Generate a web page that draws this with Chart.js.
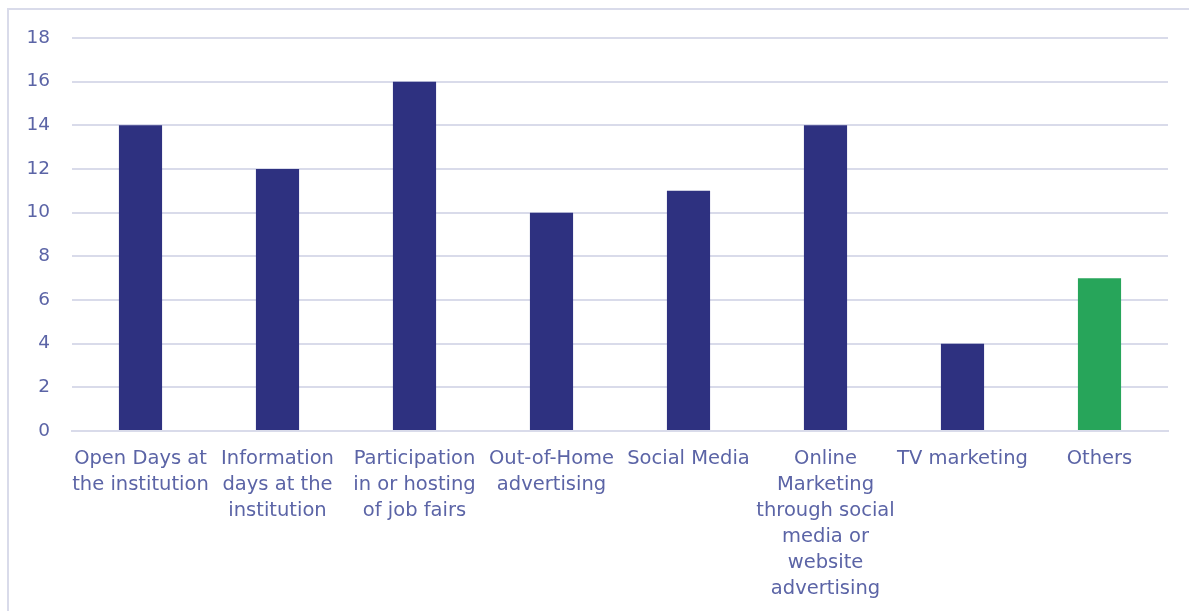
<!DOCTYPE html>
<html>
<head>
<meta charset="utf-8">
<script src="https://cdn.jsdelivr.net/npm/chart.js@4.4.0/dist/chart.umd.min.js"></script>
<style>
    html, body { margin: 0; padding: 0; background: #fff; overflow: hidden; width: 1189px; height: 611px; }
    .frame {
        position: absolute; left: 7px; top: 8px; width: 1182px; height: 603px;
        box-sizing: border-box;
        border-left: 2px solid #D9DBEA; border-top: 2px solid #D9DBEA;
        border-right: 0; border-bottom: 0;
    }
    .wrap { position: absolute; left: 0; top: 0; width: 1180px; height: 611px; }
</style>
</head>
<body>
<div class="frame"></div>
<div class="wrap"><canvas id="channelsChart"></canvas></div>
<script>
// Recruitment channels: number of mentions per channel
const channels = [
    ['Open Days at', 'the institution'],
    ['Information', 'days at the', 'institution'],
    ['Participation', 'in or hosting', 'of job fairs'],
    ['Out-of-Home', 'advertising'],
    ['Social Media'],
    ['Online', 'Marketing', 'through social', 'media or', 'website', 'advertising'],
    ['TV marketing'],
    ['Others']
];
const mentions = [14, 12, 16, 10, 11, 14, 4, 7];
const barColors = ['#2E3180', '#2E3180', '#2E3180', '#2E3180', '#2E3180', '#2E3180', '#2E3180', '#27A55A'];

const textColor = '#5B64A6';
const gridColor = '#D9DBEA';
const fontFamily = "'DejaVu Sans', sans-serif";

const ctx = document.getElementById('channelsChart').getContext('2d');
new Chart(ctx, {
    type: 'bar',
    data: {
        labels: channels,
        datasets: [{
            data: mentions,
            backgroundColor: barColors,
            barPercentage: 0.315,
            categoryPercentage: 1
        }]
    },
    options: {
        responsive: true,
        maintainAspectRatio: false,
        animation: false,
        layout: { padding: { top: 38, right: 12, left: 0, bottom: 0 } },
        plugins: {
            legend: { display: false },
            tooltip: { enabled: false }
        },
        scales: {
            x: {
                grid: { display: false, drawTicks: false },
                border: { color: gridColor, width: 2 },
                ticks: {
                    color: textColor,
                    font: { family: fontFamily, size: 19.5, lineHeight: 1.333 },
                    maxRotation: 0,
                    autoSkip: false,
                    padding: 15
                },
                afterFit: scale => { scale.height = 180; }
            },
            y: {
                min: 0,
                max: 18,
                grid: { color: gridColor, lineWidth: 2, drawTicks: false },
                border: { display: false },
                ticks: {
                    stepSize: 2,
                    color: textColor,
                    font: { family: fontFamily, size: 18.5 },
                    padding: 22
                },
                afterFit: scale => { scale.width = 72; }
            }
        }
    }
});
</script>
</body>
</html>
